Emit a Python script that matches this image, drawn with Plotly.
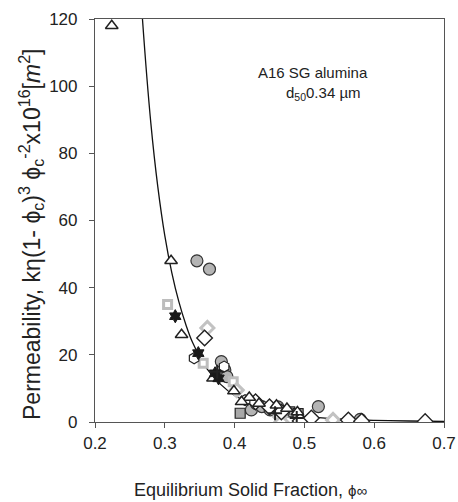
import plotly.graph_objects as go

# ---- data ----
fit_x = [0.262, 0.268, 0.28, 0.29, 0.30, 0.31, 0.32, 0.33, 0.34, 0.36, 0.38, 0.40, 0.43, 0.46, 0.50, 0.55, 0.60, 0.65, 0.70]
fit_y = [140, 120, 89, 70, 55.5, 44.5, 35.9, 29.1, 23.6, 16.0, 11.2, 7.9, 4.8, 3.0, 1.7, 0.9, 0.5, 0.3, 0.17]

tri_x = [0.224, 0.309, 0.324, 0.369, 0.399, 0.421, 0.410, 0.435, 0.460, 0.475, 0.490]
tri_y = [118, 48, 26, 13, 9.2, 7.3, 6.0, 5.5, 5.0, 4.0, 3.0]

circ_x = [0.346, 0.364, 0.381, 0.386, 0.389, 0.424, 0.431, 0.439, 0.451, 0.462, 0.470, 0.520, 0.580]
circ_y = [48, 45.5, 18, 15.5, 13.5, 3.6, 5.5, 4.6, 3.6, 4.5, 3.0, 4.6, 0.8]

dia_x = [0.357, 0.430, 0.450, 0.467, 0.494, 0.510, 0.563, 0.582, 0.673]
dia_y = [25, 6.0, 4.5, 3.0, 0.3, 1.2, 0.6, 0.2, 0.1]

hex_x = [0.342, 0.385, 0.415]
hex_y = [19, 16.5, 6.5]

lsq_x = [0.304, 0.355, 0.398]
lsq_y = [35, 17.5, 12]

ldia_x = [0.361, 0.403, 0.465, 0.467, 0.541]
ldia_y = [28, 9.5, 1.6, 0.0, 0.6]

star_x = [0.315, 0.348, 0.372, 0.377]
star_y = [31.5, 20.5, 14.5, 13.0]

gsq_x = [0.408, 0.479, 0.491]
gsq_y = [2.6, 3.0, 2.5]

plus_x = [0.375, 0.458, 0.489]
plus_y = [15, 2.6, 1.2]

x_ticks = [0.2, 0.3, 0.4, 0.5, 0.6, 0.7]
y_ticks = [0, 20, 40, 60, 80, 100, 120]

FONT = "Liberation Sans, Arial, sans-serif"
INK = "#222222"

fig = go.Figure()
fig.add_trace(go.Scatter(x=fit_x, y=fit_y, mode="lines", line=dict(color="#111111", width=1.3, shape="spline")))

def add(xs, ys, symbol, size, fill, line, lw=1.2):
    fig.add_trace(go.Scatter(x=xs, y=ys, mode="markers",
                             marker=dict(symbol=symbol, size=size, color=fill,
                                         line=dict(color=line, width=lw))))

add(gsq_x, gsq_y, "square", 10, "#a8a8a8", INK)
add(circ_x, circ_y, "circle", 12, "#b4b4b4", "#333333")
add(lsq_x, lsq_y, "square", 8, "white", "#bdbdbd", 3)
add(ldia_x, ldia_y, "diamond", 10, "white", "#c2c2c2", 3)
add(dia_x, dia_y, "diamond", 12, "white", INK, 1.4)
add(hex_x, hex_y, "hexagon", 11, "white", INK, 1.2)
add(tri_x, tri_y, "triangle-up", 11, "white", INK, 1.5)
add(star_x, star_y, "hexagram", 10, "#1a1a1a", "#1a1a1a", 1)
add(plus_x, plus_y, "cross-thin", 10, INK, INK, 2)

axis_common = dict(showline=True, mirror=True, linecolor="#555555", linewidth=1.2,
                   ticks="outside", ticklen=5, tickcolor="#555555", showgrid=False,
                   zeroline=False, automargin=False,
                   tickfont=dict(family=FONT, size=17, color=INK))

fig.update_xaxes(range=[0.2, 0.7], tickvals=x_ticks, ticktext=[f"{v:.1f}" for v in x_ticks], **axis_common)
fig.update_yaxes(range=[0, 120], tickvals=y_ticks, ticklabelstandoff=8, **axis_common)

W, H = 458, 502
L, R, T, B = 95, 14, 19, 80
pw, ph = W - L - R, H - T - B
def px(xp):
    return (xp - L) / pw
def py(yp):
    return (H - B - yp) / ph

fig.update_layout(
    width=W, height=H, showlegend=False,
    margin=dict(l=L, r=R, t=T, b=B),
    plot_bgcolor="white", paper_bgcolor="white",
    font=dict(family=FONT, color=INK),
    annotations=[
        dict(text="A16 SG alumina", x=px(313), y=py(72), font=dict(size=15)),
        dict(text="d<sub>50</sub>0.34 µm", x=px(323), y=py(94), font=dict(size=15)),
        dict(text="Equilibrium Solid Fraction, <span style='font-size:15px'>ϕ∞</span>",
             x=px(250), y=py(490), font=dict(size=18)),
        dict(text="Permeability, kη(1- ϕ<sub>c</sub>)<sup>3</sup> ϕ<sub>c</sub><sup>-2</sup>x10<sup>16</sup>[<i>m</i><sup>2</sup>]",
             x=px(31), y=py(234), textangle=-90, font=dict(size=23)),
    ],
)
fig.update_annotations(xref="paper", yref="paper", showarrow=False, xanchor="center", yanchor="middle")

fig.write_html("out.html", config={"displayModeBar": False},
               post_script="document.body.style.margin='0';")
